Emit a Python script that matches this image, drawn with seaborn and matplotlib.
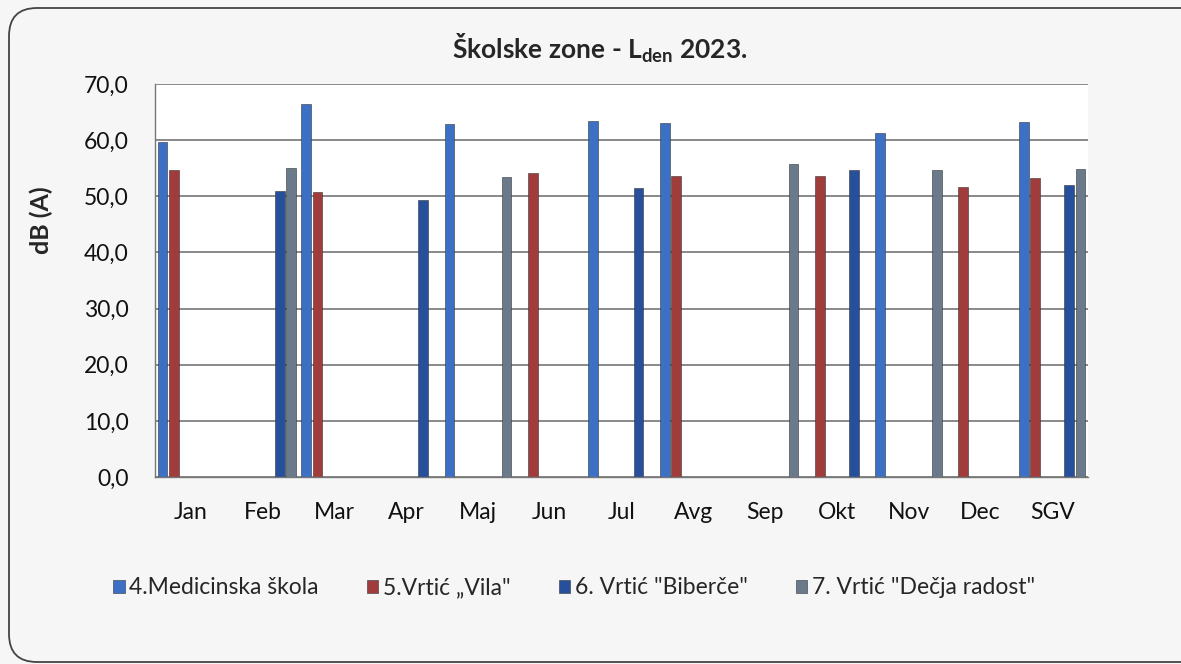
import numpy as np
import pandas as pd
import matplotlib
import matplotlib.pyplot as plt
import seaborn as sns
from matplotlib.patches import FancyBboxPatch
from matplotlib.transforms import IdentityTransform

nan = np.nan
months = ['Jan', 'Feb', 'Mar', 'Apr', 'Maj', 'Jun', 'Jul', 'Avg', 'Sep', 'Okt', 'Nov', 'Dec', 'SGV']
medicinska = [59.6, nan, 66.4, nan, 62.8, nan, 63.4, 63.0, nan, nan, 61.3, nan, 63.3]
vila = [54.7, nan, 50.8, nan, nan, 54.1, nan, 53.6, nan, 53.7, nan, 51.6, 53.2]
biberce = [nan, 51.0, nan, 49.3, nan, nan, 51.5, nan, nan, 54.6, nan, nan, 52.0]
decja = [nan, 55.0, nan, nan, 53.4, nan, nan, nan, 55.7, nan, 54.6, nan, 54.8]

names = ['4.Medicinska škola', '5.Vrtić „Vila"', '6. Vrtić "Biberče"', '7. Vrtić "Dečja radost"']
# the excel chart keeps two empty slots between series 5 and 6
hue_order = [names[0], names[1], '_e1', '_e2', names[2], names[3]]
colors = {names[0]: '#3b70c4', names[1]: '#a03c3b', '_e1': 'white', '_e2': 'white',
          names[2]: '#264f9c', names[3]: '#6a7a8a'}

df = pd.DataFrame({'month': months, names[0]: medicinska, names[1]: vila,
                   names[2]: biberce, names[3]: decja})
df = df.melt(id_vars='month', var_name='serija', value_name='val').dropna()

sns.set_style('white')
plt.rcParams['font.family'] = ['Lato', 'DejaVu Sans']
plt.rcParams['mathtext.fontset'] = 'custom'
plt.rcParams['mathtext.rm'] = 'Lato'
plt.rcParams['mathtext.bf'] = 'Lato:bold'

fig = plt.figure(figsize=(11.81, 6.64), dpi=100, facecolor='#f5f6f5')
ax = fig.add_axes([155 / 1181, 1 - 477 / 664, 933 / 1181, 393 / 664])
ax.set_facecolor('white')

sns.barplot(data=df, x='month', y='val', hue='serija', order=months, hue_order=hue_order,
            palette=colors, saturation=1, width=0.95, gap=0.15, errorbar=None, ax=ax,
            edgecolor='#333333', linewidth=0.4)

ax.set_ylim(0, 70)
ax.set_yticks(range(0, 71, 10))
ax.set_yticklabels([f'{v},0' for v in range(0, 71, 10)])
ax.yaxis.grid(True, color='#6a6a6a', linewidth=1.1)
ax.set_axisbelow(True)
ax.set_xlabel('')
ax.set_ylabel('dB (A)', fontsize=18, fontweight='bold')
ax.yaxis.set_label_coords(-0.109, 0.654)
ax.tick_params(axis='both', length=0, labelsize=16.5, colors='#111111')
ax.tick_params(axis='x', pad=18)
ax.tick_params(axis='y', pad=19)
for s in ['top', 'right']:
    ax.spines[s].set_visible(False)
for s in ['left', 'bottom']:
    ax.spines[s].set_color('#777777')
    ax.spines[s].set_linewidth(1.0)

handles, labels = ax.get_legend_handles_labels()
keep = [(h, l) for h, l in zip(handles, labels) if not l.startswith('_e')]
ax.get_legend().remove()
fig.legend([k[0] for k in keep], [k[1] for k in keep], ncol=4, loc='center',
           bbox_to_anchor=(574 / 1181, 76 / 664), frameon=False, fontsize=16.5,
           handlelength=0.5, handleheight=0.5, handletextpad=0.2, columnspacing=2.1)

fig.text(600 / 1181, 1 - 48 / 664, r'Školske zone - L$_{\mathbf{den}}$ 2023.',
         ha='center', va='center', fontsize=19, fontweight='bold')

frame = FancyBboxPatch((9, 2), 1210, 654, boxstyle='round,pad=0,rounding_size=28',
                       transform=IdentityTransform(), facecolor='none',
                       edgecolor='#444444', linewidth=1.3)
fig.patches.append(frame)

fig.savefig('out.png', dpi=100, facecolor=fig.get_facecolor())
